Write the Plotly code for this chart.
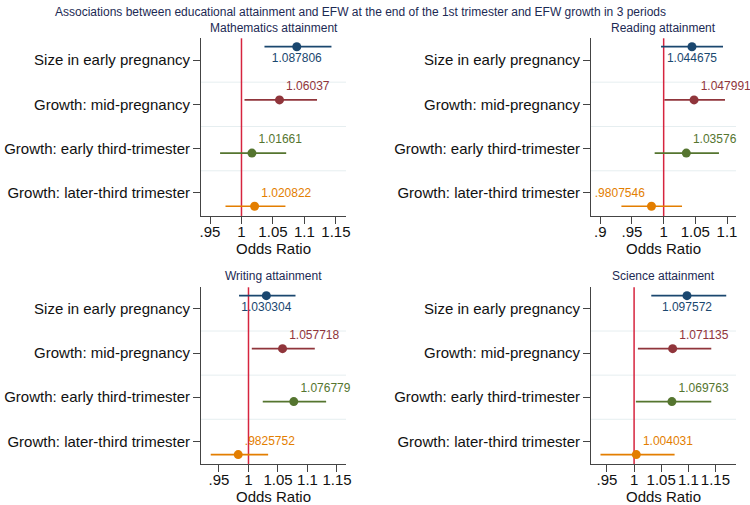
import plotly.graph_objects as go

# ---------------- data ----------------
rows = ["Size in early pregnancy", "Growth: mid-pregnancy",
        "Growth: early third-trimester", "Growth: later-third trimester"]
outcomes = ["Mathematics attainment", "Reading attainment",
            "Writing attainment", "Science attainment"]

math_or = [1.087806, 1.06037, 1.01661, 1.020822]
math_lo = [1.0365, 1.0048, 0.966, 0.9746]
math_hi = [1.1429, 1.120, 1.071, 1.0698]

read_or = [1.044675, 1.047991, 1.03576, 0.9807546]
read_lo = [0.9959, 1.0011, 0.9858, 0.9333]
read_hi = [1.0937, 1.0968, 1.0873, 1.029]

writ_or = [1.030304, 1.057718, 1.076779, 0.9825752]
writ_lo = [0.984, 1.0056, 1.0242, 0.936]
writ_hi = [1.0797, 1.1124, 1.1316, 1.0333]

sci_or = [1.097572, 1.071135, 1.069763, 1.004031]
sci_lo = [1.0317, 1.007, 1.0033, 0.938]
sci_hi = [1.170, 1.1424, 1.1424, 1.0747]

tick_std = [0.95, 1.0, 1.05, 1.1, 1.15]
tick_std_txt = [".95", "1", "1.05", "1.1", "1.15"]
tick_read = [0.9, 0.95, 1.0, 1.05, 1.1]
tick_read_txt = [".9", ".95", "1", "1.05", "1.1"]

# ---------------- style ----------------
colors = ["#1a476f", "#90353b", "#55752f", "#e37e00"]
FONT = "Liberation Sans, Arial, sans-serif"
W, H = 750, 505

panels = [
    dict(name=outcomes[0], OR=math_or, lo=math_lo, hi=math_hi, tv=tick_std, tt=tick_std_txt,
         xr=[0.9357, 1.166], xd=[201, 346], yd=[38.3, 216], ttl_y=27.5,
         pos=["bottom center", "top right", "top right", "top right"]),
    dict(name=outcomes[1], OR=read_or, lo=read_lo, hi=read_hi, tv=tick_read, tt=tick_read_txt,
         xr=[0.8853, 1.1142], xd=[591, 736], yd=[38.3, 216], ttl_y=27.5,
         pos=["bottom center", "top right", "top right", "top left"]),
    dict(name=outcomes[2], OR=writ_or, lo=writ_lo, hi=writ_hi, tv=tick_std, tt=tick_std_txt,
         xr=[0.9195, 1.1653], xd=[201, 346], yd=[287.3, 464.3], ttl_y=276,
         pos=["bottom center", "top right", "top right", "top right"]),
    dict(name=outcomes[3], OR=sci_or, lo=sci_lo, hi=sci_hi, tv=tick_std, tt=tick_std_txt,
         xr=[0.9205, 1.188], xd=[591, 736], yd=[287.3, 464.3], ttl_y=276,
         pos=["bottom center", "top right", "top right", "top right"]),
]


def fmt(v):
    s = f"{v:.7g}"
    if s.startswith("0."):
        s = s[1:]
    return s


label_y = [4, 3, 2, 1]
mark_y = [4.3 - 1.2 * i for i in range(4)]

fig = go.Figure()
shapes = []
annotations = []

for k, p in enumerate(panels):
    xa = "x" if k == 0 else f"x{k+1}"
    ya = "y" if k == 0 else f"y{k+1}"
    for i in range(4):
        o = p["OR"][i]
        fig.add_trace(go.Scatter(
            x=[o], y=[mark_y[i]], xaxis=xa, yaxis=ya,
            mode="markers+text",
            marker=dict(color=colors[i], size=9),
            text=[fmt(o)], textposition=p["pos"][i],
            textfont=dict(family=FONT, size=12, color=colors[i]),
            error_x=dict(type="data", symmetric=False,
                         array=[p["hi"][i] - o], arrayminus=[o - p["lo"][i]],
                         color=colors[i], thickness=1.7, width=0),
            showlegend=False, cliponaxis=False,
        ))
    axn = "" if k == 0 else str(k + 1)
    x0, x1 = p["xd"]
    yt, yb = p["yd"]
    fig.update_layout(**{
        f"xaxis{axn}": dict(
            domain=[x0 / W, x1 / W], range=p["xr"], anchor=ya,
            tickvals=p["tv"], ticktext=p["tt"],
            ticks="outside", ticklen=7, tickcolor="#444", tickwidth=1,
            showline=True, linecolor="#444", linewidth=1,
            showgrid=False, zeroline=False,
            tickfont=dict(family=FONT, size=15, color="#111"),
            ticklabelstandoff=-5,
            title=dict(text="Odds Ratio", font=dict(family=FONT, size=15, color="#111"),
                       standoff=2),
            automargin=False, fixedrange=True,
        ),
        f"yaxis{axn}": dict(
            domain=[1 - yb / H, 1 - yt / H], range=[0.48, 4.49], anchor=xa,
            tickvals=label_y, ticktext=rows,
            ticks="outside", ticklen=7, tickcolor="#444", tickwidth=1,
            showline=True, linecolor="#444", linewidth=1,
            showgrid=False, zeroline=False,
            tickfont=dict(family=FONT, size=15, color="#111"),
            automargin=False, fixedrange=True,
        ),
    })
    for g in [3.5, 2.5, 1.5]:
        shapes.append(dict(type="line", xref=f"{xa} domain", yref=ya,
                           x0=0, x1=1, y0=g, y1=g,
                           line=dict(color="#e6eef0", width=1), layer="below"))
    shapes.append(dict(type="line", xref=xa, yref=f"{ya} domain",
                       x0=1, x1=1, y0=0, y1=1,
                       line=dict(color="#d6243e", width=1.5), layer="below"))
    annotations.append(dict(text=p["name"], xref="paper", yref="paper",
                            x=(x0 + x1) / 2 / W, y=1 - p["ttl_y"] / H,
                            xanchor="center", yanchor="middle", showarrow=False,
                            font=dict(family=FONT, size=12, color="#1c2a54")))

annotations.append(dict(
    text="Associations between educational attainment and EFW at the end of the 1st trimester and EFW growth in 3 periods",
    xref="paper", yref="paper", x=360 / W, y=1 - 12 / H,
    xanchor="center", yanchor="middle", showarrow=False,
    font=dict(family=FONT, size=12, color="#1c2a54")))

fig.update_layout(
    width=W, height=H,
    margin=dict(l=0, r=0, t=0, b=0),
    paper_bgcolor="white", plot_bgcolor="white",
    shapes=shapes, annotations=annotations,
    showlegend=False,
)

fig.write_html("out.html", config={"displayModeBar": False},
               post_script="document.body.style.margin='0';document.body.style.overflow='hidden';")
